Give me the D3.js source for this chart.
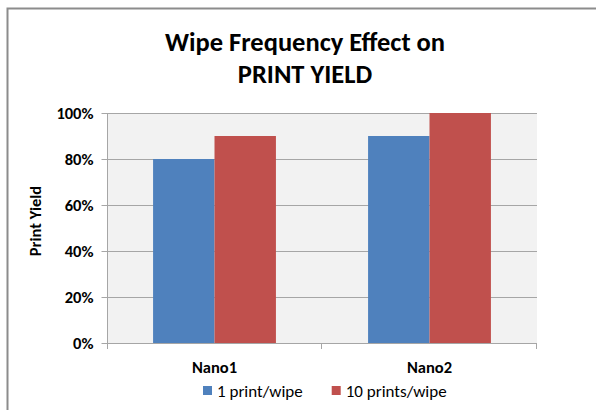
<!DOCTYPE html>
<html>
<head>
<meta charset="utf-8">
<script src="https://cdn.jsdelivr.net/npm/d3@7"></script>
<style>
  html, body { margin: 0; padding: 0; background: #fff; }
  svg { display: block; }
  text { font-family: Carlito, Calibri, Lato, "Open Sans", sans-serif; fill: #000; }
</style>
</head>
<body>
<svg id="chart" width="596" height="410"></svg>
<script>
// Print yield by nozzle, for two wipe frequencies
const categories = ["Nano1", "Nano2"];
const seriesNames = ["1 print/wipe", "10 prints/wipe"];
const onePrintPerWipe = [0.80, 0.90];
const tenPrintsPerWipe = [0.90, 1.00];
const yTicks = [0, 0.2, 0.4, 0.6, 0.8, 1.0];
const titleLines = ["Wipe Frequency Effect on", "PRINT YIELD"];
const yAxisTitle = "Print Yield";

const colors = ["#4F81BD", "#C0504D"];
const seriesValues = [onePrintPerWipe, tenPrintsPerWipe];

const svg = d3.select("#chart");

// Outer chart frame
svg.append("rect")
  .attr("x", 7.5).attr("y", 8.5)
  .attr("width", 700).attr("height", 500)
  .attr("fill", "#fff")
  .attr("stroke", "#8c8c8c")
  .attr("stroke-width", 2);

const plot = { left: 107, right: 537, top: 113, bottom: 343 };

const x0 = d3.scaleBand().domain(categories).range([plot.left, plot.right]).padding(0);
const x1 = d3.scaleBand().domain(d3.range(seriesNames.length))
  .range([0, x0.bandwidth()]).paddingInner(0).paddingOuter(0.75);
const y = d3.scaleLinear().domain([0, 1]).range([plot.bottom, plot.top]);

// Plot area background
svg.append("rect")
  .attr("x", plot.left).attr("y", plot.top)
  .attr("width", plot.right - plot.left).attr("height", plot.bottom - plot.top)
  .attr("fill", "#f2f2f2");

// Horizontal gridlines
svg.append("g")
  .selectAll("line")
  .data(yTicks.filter(d => d > 0))
  .join("line")
  .attr("x1", plot.left).attr("x2", plot.right)
  .attr("y1", d => Math.round(y(d)) + 0.5).attr("y2", d => Math.round(y(d)) + 0.5)
  .attr("stroke", "#a6a6a6").attr("stroke-width", 1);

// Bars
categories.forEach((cat, ci) => {
  seriesValues.forEach((vals, si) => {
    svg.append("rect")
      .attr("x", x0(cat) + x1(si))
      .attr("y", y(vals[ci]))
      .attr("width", x1.bandwidth())
      .attr("height", y(0) - y(vals[ci]))
      .attr("fill", colors[si]);
  });
});

// Y axis
const yAxis = d3.axisLeft(y).tickValues(yTicks).tickFormat(d3.format(".0%"))
  .tickSize(6).tickPadding(8);
const yg = svg.append("g").attr("transform", `translate(${plot.left + 0.5},0)`).call(yAxis);
yg.select(".domain").remove();
yg.append("line").attr("x1", 0).attr("x2", 0).attr("y1", plot.top).attr("y2", plot.bottom + 6)
  .attr("stroke", "#a6a6a6");
yg.selectAll(".tick line").attr("stroke", "#a6a6a6");
yg.selectAll(".tick text")
  .style("font-size", "16.5px").style("font-weight", "bold").attr("fill", "#000");

// X axis: baseline with ticks at category boundaries
const xg = svg.append("g");
xg.append("line")
  .attr("x1", plot.left).attr("x2", plot.right)
  .attr("y1", plot.bottom + 0.5).attr("y2", plot.bottom + 0.5)
  .attr("stroke", "#a6a6a6");
const boundaries = categories.map(c => x0(c)).concat([x0(categories[categories.length - 1]) + x0.bandwidth()]);
xg.selectAll("line.tick")
  .data(boundaries.slice(1))
  .join("line")
  .attr("class", "tick")
  .attr("x1", d => Math.round(d) - 0.5).attr("x2", d => Math.round(d) - 0.5)
  .attr("y1", plot.bottom).attr("y2", plot.bottom + 6)
  .attr("stroke", "#a6a6a6");
xg.selectAll("text")
  .data(categories)
  .join("text")
  .attr("x", d => x0(d) + x0.bandwidth() / 2)
  .attr("y", 373)
  .attr("text-anchor", "middle")
  .style("font-size", "16.5px").style("font-weight", "bold")
  .text(d => d);

// Title
svg.append("g").selectAll("text")
  .data(titleLines)
  .join("text")
  .attr("x", 305)
  .attr("y", (d, i) => 51 + i * 32)
  .attr("text-anchor", "middle")
  .style("font-size", "26.5px").style("font-weight", "bold")
  .text(d => d);

// Y axis title
svg.append("text")
  .attr("transform", "translate(41,221) rotate(-90)")
  .attr("text-anchor", "middle")
  .style("font-size", "16.5px").style("font-weight", "bold")
  .text(yAxisTitle);

// Legend
const legend = svg.append("g");
let lx = 203;
seriesNames.forEach((name, i) => {
  const item = legend.append("g").attr("transform", `translate(${lx},0)`);
  item.append("rect").attr("x", 0).attr("y", 386).attr("width", 9).attr("height", 9).attr("fill", colors[i]);
  const t = item.append("text").attr("x", 14).attr("y", 397)
    .style("font-size", "17px").text(name);
  lx += 14 + t.node().getComputedTextLength() + 29;
});
</script>
</body>
</html>
